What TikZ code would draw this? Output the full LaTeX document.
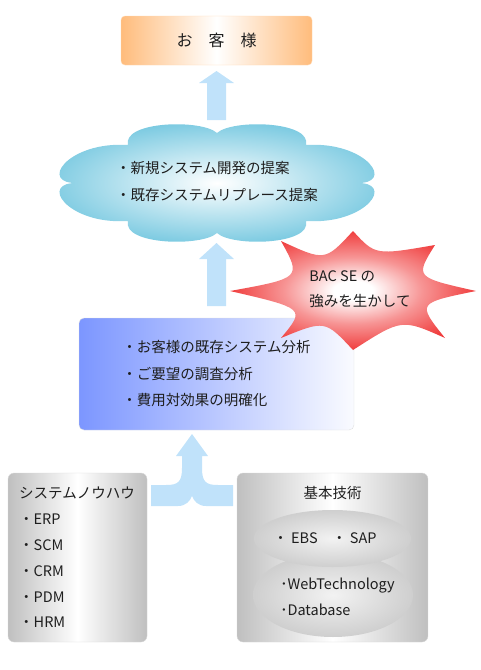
\documentclass[tikz,border=0pt]{standalone}
\usepackage{fontspec}
\setmainfont{Noto Sans CJK JP}
\usepackage{tikz}
\usetikzlibrary{shapes.geometric}

\definecolor{arrowblue}{RGB}{192,226,250}
\definecolor{cloudcyan}{RGB}{118,200,224}
\definecolor{starred}{RGB}{240,62,62}
\definecolor{boxblue}{RGB}{124,150,255}
\definecolor{boxorange}{RGB}{255,188,124}
\definecolor{textgray}{RGB}{30,30,30}
\pgfdeclareradialshading{burst}{\pgfpoint{0bp}{0bp}}{color(0bp)=(white); color(4bp)=(white); color(14bp)=(starred!55!white); color(25bp)=(starred); color(50bp)=(starred)}

\begin{document}
\begin{tikzpicture}[x=1pt, y=-1pt, font=\fontsize{14.5}{26.5}\selectfont, text=textgray,
  bigarrow/.style={fill=arrowblue, draw=none},
  graybox/.style={rectangle, rounded corners=6pt, draw=gray!30, left color=gray!50, right color=gray!50, middle color=white, minimum height=169pt, minimum width=#1},
  grayoval/.style={ellipse, draw=none, inner color=gray!10, outer color=gray!38, minimum width=#1}]
\useasboundingbox (0,0) rectangle (481,670);

% customer
\node [rectangle, rounded corners=4pt, draw=boxorange!60, left color=boxorange, right color=boxorange, middle color=white, minimum width=191pt, minimum height=49pt, font=\fontsize{16}{16}\selectfont] (kyaku) at (216.5,40.5) {お　客　様};

% cloud
\shade [inner color=white, outer color=cloudcyan, shift={(217,183)}] (138,0) .. controls (180,-2) and (150,42) .. (89,38)
  .. controls (95,62) and (15,64) .. (0,50)
  .. controls (-15,64) and (-95,62) .. (-89,38)
  .. controls (-150,42) and (-180,-2) .. (-138,0)
  .. controls (-180,2) and (-150,-42) .. (-89,-38)
  .. controls (-95,-62) and (-15,-64) .. (0,-50)
  .. controls (15,-64) and (95,-62) .. (89,-38)
  .. controls (150,-42) and (180,2) .. (138,0) -- cycle;
\node [align=left, inner sep=0] (teian) at (217,181.5) {・新規システム開発の提案\\・既存システムリプレース提案};

% arrows up
\fill [bigarrow] (207,120) -- (207,83) -- (199,83) -- (216.5,71) -- (234,83) -- (226,83) -- (226,120) -- cycle;
\fill [bigarrow] (207,306) -- (207,259) -- (199,259) -- (216.5,243) -- (234,259) -- (226,259) -- (226,306) -- cycle;

% analysis
\node [rectangle, rounded corners=5pt, draw=gray!25, left color=boxblue, right color=boxblue!4, minimum width=275pt, minimum height=112pt, align=left] (bunseki) at (216.5,374) {・お客様の既存システム分析\\・ご要望の調査分析\\・費用対効果の明確化};

% star
\path [shading=burst, shift={(353,291)}] (123,0) .. controls (64,12) .. (92,47)
  .. controls (48.7,27.7) .. (0,59)
  .. controls (-28,29) .. (-72,47)
  .. controls (-47.5,17.5) .. (-123,0)
  .. controls (-51.5,-13) .. (-72,-50)
  .. controls (-28,-29.7) .. (0,-60)
  .. controls (22.3,-35.7) .. (82,-46)
  .. controls (61.9,-13.7) .. (123,0) -- cycle;
\node [align=left, inner sep=0, font=\fontsize{14.5}{25}\selectfont] (tsuyomi) at (360,289.5) {BAC SE の\\強みを生かして};

% merge arrow
\fill [bigarrow] (192,434) -- (208,456) -- (202,456) -- (202,468) .. controls (202,482) and (206,485) .. (218,485) -- (233,485) -- (233,506) -- (206,506) .. controls (198,506) and (194,501) .. (192,496) .. controls (190,501) and (186,506) .. (178,506) -- (151,506) -- (151,485) -- (166,485) .. controls (178,485) and (182,482) .. (182,468) -- (182,456) -- (176,456) -- cycle;

% know-how
\node [graybox=139pt] (nouhau) at (77.5,557.5) {};
\node [align=left, anchor=west, inner sep=0, font=\fontsize{14.5}{25.8}\selectfont] (nouhaulist) at (19,557.5) {システムノウハウ\\・ERP\\・SCM\\・CRM\\・PDM\\・HRM};

% technology
\node [graybox=191pt] (gijutsu) at (332.5,557.5) {};
\node [inner sep=0] (gijutsutitle) at (332.5,493) {基本技術};
\node [grayoval=160pt, minimum height=84pt] (web) at (333,595) {};
\node [grayoval=157pt, minimum height=57pt] (erp) at (332.5,538.5) {};
\node [inner sep=0] (erptext) at (325,538) {・ EBS　・ SAP};
\node [align=left, inner sep=0, font=\fontsize{14.5}{26}\selectfont] (webtext) at (337.5,597) {･WebTechnology\\･Database};
\end{tikzpicture}
\end{document}
